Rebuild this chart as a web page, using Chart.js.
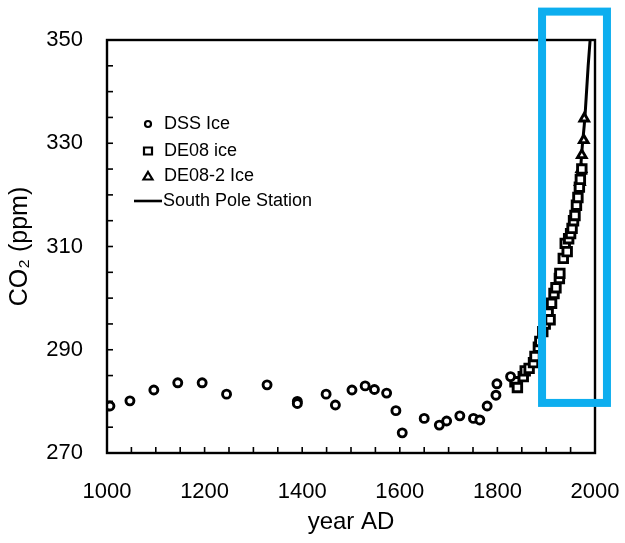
<!DOCTYPE html>
<html>
<head>
<meta charset="utf-8">
<title>CO2 record, year 1000 to 2000</title>
<script src="https://cdn.jsdelivr.net/npm/chart.js@4.4.1/dist/chart.umd.min.js"></script>
<style>
  html, body { margin:0; padding:0; background:#fff; }
  #wrap { width:625px; height:543px; }
</style>
</head>
<body>
<div id="wrap"><canvas id="co2Chart" width="625" height="543"></canvas></div>
<script>
// values (year AD, CO2 ppm)
const dssYears = [1006, 1047, 1096, 1145, 1195, 1245, 1328, 1390, 1390, 1449, 1468, 1502, 1529, 1548,
  1573, 1592, 1605, 1650, 1681, 1696, 1723, 1751, 1764, 1779, 1797, 1799, 1827];
const dssPpm = [279.1, 280.1, 282.2, 283.6, 283.6, 281.4, 283.2, 280.0, 279.6, 281.4, 279.3, 282.2, 283.0, 282.3,
  281.6, 278.2, 273.9, 276.7, 275.4, 276.2, 277.2, 276.7, 276.4, 279.1, 281.2, 283.4, 284.8];

const de08Years = [1836, 1841, 1853, 1857, 1865, 1874, 1877, 1884, 1887, 1893, 1898, 1904, 1908, 1911, 1916,
  1920, 1927, 1928, 1935, 1939, 1943, 1946, 1950, 1953, 1956, 1959, 1962, 1965, 1968, 1970, 1973];
const de08Ppm = [283.8, 282.7, 284.8, 285.9, 286.4, 287.5, 288.7, 290.5, 291.6, 293.5, 295.0, 297.1, 295.8, 299.0, 300.9,
  302.0, 303.8, 304.8, 307.7, 310.6, 309.0, 311.5, 312.5, 313.5, 315.0, 316.0, 318.0, 319.5, 321.5, 323.0, 325.0];

const de082Years = [1969, 1972, 1973, 1977, 1978];
const de082Ppm = [322.5, 325.0, 327.7, 330.6, 334.8];

const spoYears = [1958, 1960, 1962, 1964, 1966, 1968, 1970, 1972, 1974, 1976, 1978, 1980, 1982, 1984, 1986, 1988, 1990];
const spoPpm = [314.5, 316.0, 317.5, 318.5, 320.5, 322.5, 324.5, 327.0, 329.5, 331.5, 333.5, 336.0, 339.0, 342.0, 345.0, 347.5, 350.0];

const seriesNames = ["DSS Ice", "DE08 ice", "DE08-2 Ice", "South Pole Station"];

// blue highlight drawn over the figure, in data units [x0, x1, y0, y1]
const highlightBox = [1891.5, 2024.5, 279.7, 355.5];

const FONT = "'Liberation Sans', Arial, Helvetica, sans-serif";
const pts = (xs, ys) => xs.map((x, i) => ({ x, y: ys[i] }));

// small ticks pointing into the plot, frame on all four sides
const frameTicks = {
  id: "frameTicks",
  afterDraw(chart){
    const { ctx, chartArea: a, scales } = chart;
    ctx.save();
    ctx.strokeStyle = "#000";
    ctx.lineWidth = 1.6;
    scales.x.ticks.forEach(t => {
      if (t.value <= scales.x.min || t.value >= scales.x.max) return;
      const px = scales.x.getPixelForValue(t.value);
      ctx.beginPath(); ctx.moveTo(px, a.bottom); ctx.lineTo(px, a.bottom - 6); ctx.stroke();
    });
    scales.y.ticks.forEach(t => {
      if (t.value <= scales.y.min || t.value >= scales.y.max) return;
      const py = scales.y.getPixelForValue(t.value);
      ctx.beginPath(); ctx.moveTo(a.left, py); ctx.lineTo(a.left + 6, py); ctx.stroke();
    });
    ctx.lineWidth = 2.4;
    ctx.strokeRect(a.left, a.top, a.right - a.left, a.bottom - a.top);
    ctx.restore();
  }
};

// legend sitting inside the plot, top left
const innerLegend = {
  id: "innerLegend",
  afterDraw(chart){
    const { ctx, chartArea: a } = chart;
    const sx = a.left + 41, tx = a.left + 57;
    const rows = [a.top + 84, a.top + 111, a.top + 136, a.top + 161];
    ctx.save();
    ctx.strokeStyle = "#000";
    ctx.fillStyle = "#000";
    ctx.lineWidth = 2.2;
    chart.data.datasets.forEach((ds, i) => {
      const y = rows[i];
      ctx.beginPath();
      if (ds.pointStyle === "circle") {
        ctx.arc(sx, y, 3, 0, Math.PI * 2);
      } else if (ds.pointStyle === "rect") {
        ctx.rect(sx - 4, y - 3.5, 8, 7);
      } else if (ds.pointStyle === "triangle") {
        ctx.moveTo(sx, y - 4); ctx.lineTo(sx + 4.5, y + 3.5); ctx.lineTo(sx - 4.5, y + 3.5); ctx.closePath();
      } else {
        ctx.lineWidth = 2.6;
        ctx.moveTo(a.left + 27, y); ctx.lineTo(a.left + 55, y);
      }
      ctx.stroke();
      ctx.lineWidth = 2.2;
      ctx.font = "18px " + FONT;
      ctx.textBaseline = "middle";
      ctx.fillText(ds.label, ds.pointStyle ? tx : a.left + 56, y);
    });
    ctx.restore();
  }
};

const highlight = {
  id: "highlight",
  afterDraw(chart){
    const { ctx, scales: { x, y } } = chart;
    const x0 = x.getPixelForValue(highlightBox[0]), x1 = x.getPixelForValue(highlightBox[1]);
    const y0 = y.getPixelForValue(highlightBox[2]), y1 = y.getPixelForValue(highlightBox[3]);
    ctx.save();
    ctx.strokeStyle = "#0DAEEF";
    ctx.lineWidth = 8;
    ctx.strokeRect(x0, y1, x1 - x0, y0 - y1);
    ctx.restore();
  }
};

const markerBase = { borderColor: "#000", backgroundColor: "#fff", borderWidth: 2.9, showLine: false };

new Chart(document.getElementById("co2Chart"), {
  type: "scatter",
  data: {
    datasets: [
      { ...markerBase, label: seriesNames[0], data: pts(dssYears, dssPpm), pointStyle: "circle", pointRadius: 4 },
      { ...markerBase, label: seriesNames[1], data: pts(de08Years, de08Ppm), pointStyle: "rect", pointRadius: 6 },
      { ...markerBase, label: seriesNames[2], data: pts(de082Years, de082Ppm), pointStyle: "triangle", pointRadius: 5 },
      { label: seriesNames[3], data: pts(spoYears, spoPpm), showLine: true, pointRadius: 0,
        borderColor: "#000", borderWidth: 3, tension: 0, pointStyle: false }
    ]
  },
  options: {
    responsive: false,
    animation: false,
    layout: { padding: { top: 40, right: 30, left: 0, bottom: 0 } },
    plugins: { legend: { display: false }, tooltip: { enabled: false } },
    scales: {
      x: {
        type: "linear", min: 1000, max: 2000,
        afterFit: s => { s.height = 90; },
        // tick marks are drawn inward by frameTicks; tickLength only spaces the labels
        grid: { display: false, drawTicks: true, tickLength: 24 },
        border: { display: false },
        ticks: {
          stepSize: 50, autoSkip: false, maxRotation: 0, padding: 2, color: "#000",
          font: { family: FONT, size: 22 },
          callback: v => (v % 200 === 0 ? String(v) : "")
        },
        title: { display: true, text: "year AD", color: "#000", font: { family: FONT, size: 24 }, padding: { top: 0, bottom: 6 } }
      },
      y: {
        min: 270, max: 350,
        afterFit: s => { s.width = 107; },
        grid: { display: false, drawTicks: true, tickLength: 22 },
        border: { display: false },
        ticks: {
          stepSize: 5, autoSkip: false, padding: 2, color: "#000",
          font: { family: FONT, size: 22 },
          callback: v => ((v - 270) % 20 === 0 ? String(v) : "")
        },
        title: { display: true, text: "CO₂ (ppm)", color: "#000", font: { family: FONT, size: 25 }, padding: { top: 5, bottom: 0 } }
      }
    }
  },
  plugins: [frameTicks, innerLegend, highlight]
});
</script>
</body>
</html>
